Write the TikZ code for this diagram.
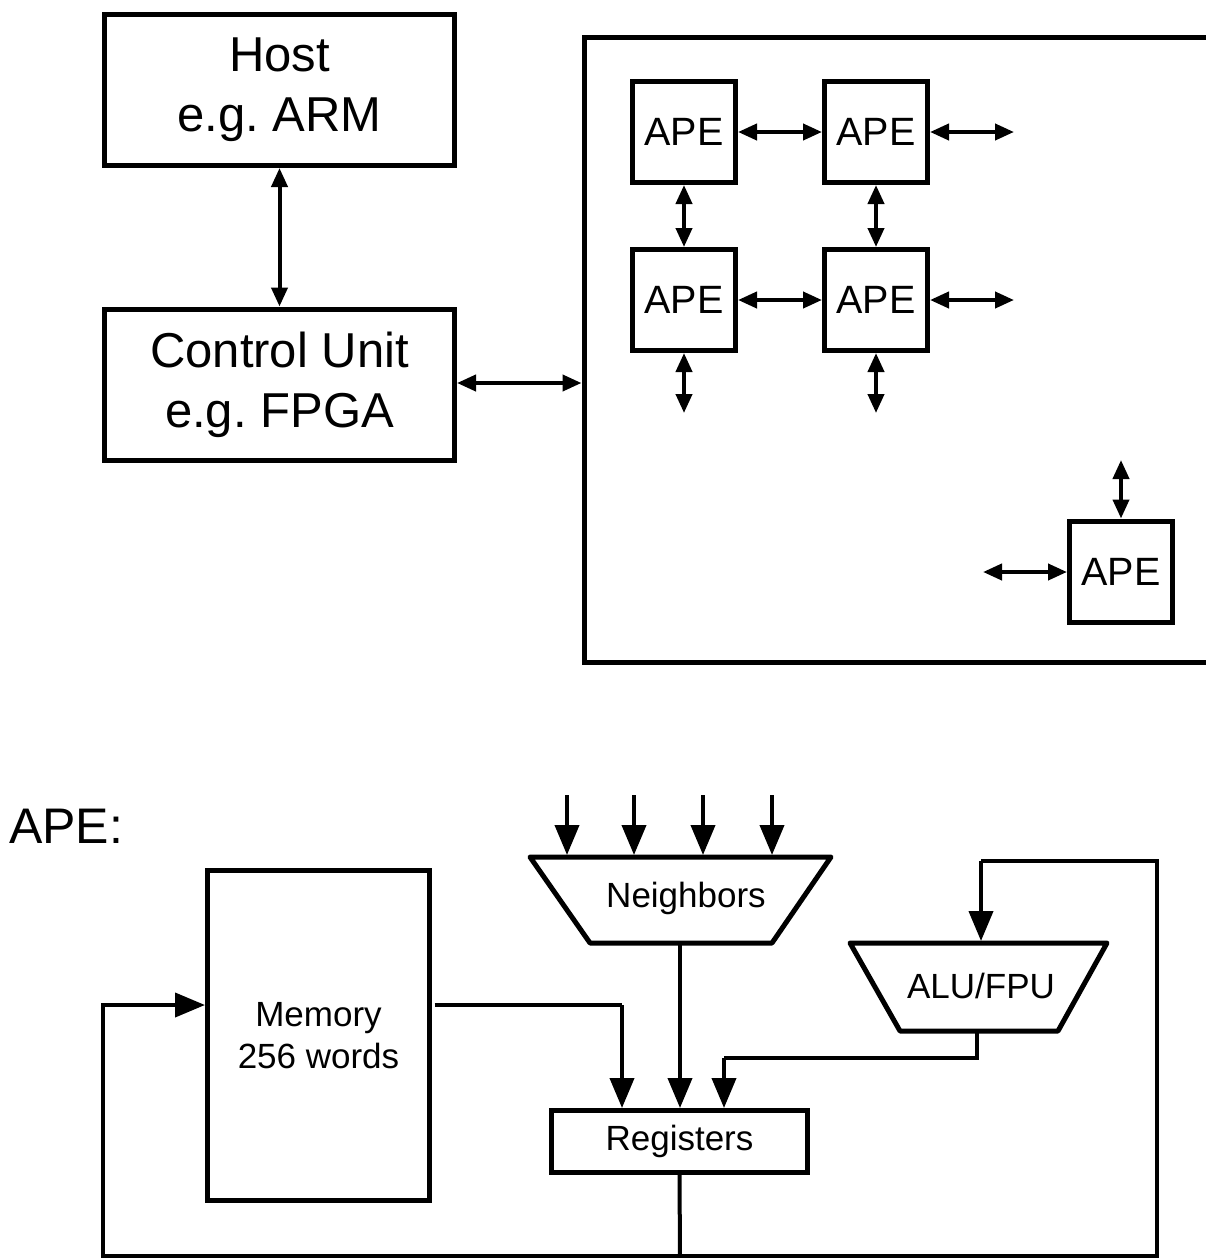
\documentclass[tikz,border=0pt]{standalone}
\usepackage{fontspec}
\setmainfont{Liberation Sans}
\usetikzlibrary{arrows.meta}
\begin{document}
\frenchspacing
\begin{tikzpicture}[x=1pt,y=-1pt,
  box/.style={draw, line width=5pt, inner sep=0pt, align=center},
  bigbox/.style={box, minimum width=350pt, minimum height=151pt, font=\fontsize{49}{60}\selectfont},
  apebox/.style={box, minimum width=103pt, minimum height=101pt, font=\fontsize{39.5}{50}\selectfont},
  smallfont/.style={font=\fontsize{35}{42}\selectfont},
  dbl/.style={line width=4pt, {Triangle[length=19pt,width=16pt]}-{Triangle[length=19pt,width=16pt]}},
  flow/.style={line width=4pt, -{Triangle[length=30pt,width=24pt]}},
  wire/.style={line width=4pt},
  trap/.style={draw, line width=5pt, line join=round}
]
\useasboundingbox (0,0) rectangle (1206,1259);

% ---------- top: system ----------
\node[bigbox] (host) at (279.5,90) {Host\\e.g.\ ARM};
\node[bigbox] (cu) at (279.5,384.5) {Control Unit\\e.g.\ FPGA};
\draw[dbl] (host.south) -- (cu.south |- cu.north);

% array frame (cut by the right edge)
\draw[line width=5pt] (1215,37) -- (584,37) -- (584,662) -- (1215,662);
\coordinate (frameL) at (581.5,383);
\draw[dbl] (cu.east |- frameL) -- (frameL);

\node[apebox] (a1) at (684,132) {APE};
\node[apebox] (a2) at (876,132) {APE};
\node[apebox] (a3) at (684,300) {APE};
\node[apebox] (a4) at (876,300) {APE};
\node[apebox] (a5) at (1121,571.5) {APE};

\coordinate (r1) at (1014,132);
\coordinate (r2) at (1014,300);
\coordinate (d3) at (684,413);
\coordinate (d4) at (876,413);
\coordinate (u5) at (1121,460);
\coordinate (l5) at (983,572);

\draw[dbl] (a1.east) -- (a2.west);
\draw[dbl] (a3.east) -- (a4.west);
\draw[dbl] (a2.east) -- (r1);
\draw[dbl] (a4.east) -- (r2);
\draw[dbl] (a1.south) -- (a3.north);
\draw[dbl] (a2.south) -- (a4.north);
\draw[dbl] (a3.south) -- (d3);
\draw[dbl] (a4.south) -- (d4);
\draw[dbl] (a5.north) -- (u5);
\draw[dbl] (a5.west |- l5) -- (l5);

% ---------- bottom: APE detail ----------
\node[anchor=base west, font=\fontsize{50}{54}\selectfont, inner sep=0pt] (apelbl) at (9,843) {APE:};

\node[box, minimum width=222pt, minimum height=330pt, font=\fontsize{35}{42}\selectfont] (mem) at (318.5,1035.5) {Memory\\256 words};
\node[box, minimum width=256pt, minimum height=62pt, smallfont] (reg) at (679.5,1141.5) {Registers};

% Neighbors trapezoid
\coordinate (nbA) at (530,857);
\coordinate (nbB) at (831,857);
\coordinate (nbC) at (772,943);
\coordinate (nbD) at (590,943);
\draw[trap] (nbA) -- (nbB) -- (nbC) -- (nbD) -- cycle;
\node[smallfont, inner sep=0pt] (nb) at (686,898) {Neighbors};

% ALU/FPU trapezoid
\coordinate (alA) at (850,943);
\coordinate (alB) at (1107,943);
\coordinate (alC) at (1058,1031);
\coordinate (alD) at (900,1031);
\draw[trap] (alA) -- (alB) -- (alC) -- (alD) -- cycle;
\node[smallfont, inner sep=0pt] (alu) at (981,986) {ALU/FPU};

% inputs into Neighbors
\foreach \xx/\nm in {567/i1, 634/i2, 703/i3, 772/i4}{
  \coordinate (\nm s) at (\xx,795);
  \coordinate (\nm t) at (\xx,855);
  \draw[flow] (\nm s) -- (\nm t);
}

% connections
\coordinate (memout) at (434.5,1005);
\coordinate (memin) at (205,1005);
\coordinate (bl) at (103,1256);
\coordinate (br) at (1157,1256);
\coordinate (bm) at (680,1256);

\draw[wire] (memout) -- (622,1005) coordinate (m1);
\draw[flow] (m1) -- (m1 |- reg.north);
\draw[flow] (680,943) coordinate (nbout) -- (nbout |- reg.north);
\draw[wire] (977,1031) coordinate (aluout) -- (977,1058) -- (724,1058) coordinate (a2r);
\draw[flow] (a2r) -- (a2r |- reg.north);

\draw[wire] (reg.south) -- (bm);
\draw[wire, line cap=rect] (bl) -- (br);
\draw[flow] (bl) -- (103,1005) -- (memin);
\draw[wire] (br) -- (1157,861) -- (981,861) coordinate (fb);
\draw[flow] (fb) -- (981,941);
\end{tikzpicture}
\end{document}
